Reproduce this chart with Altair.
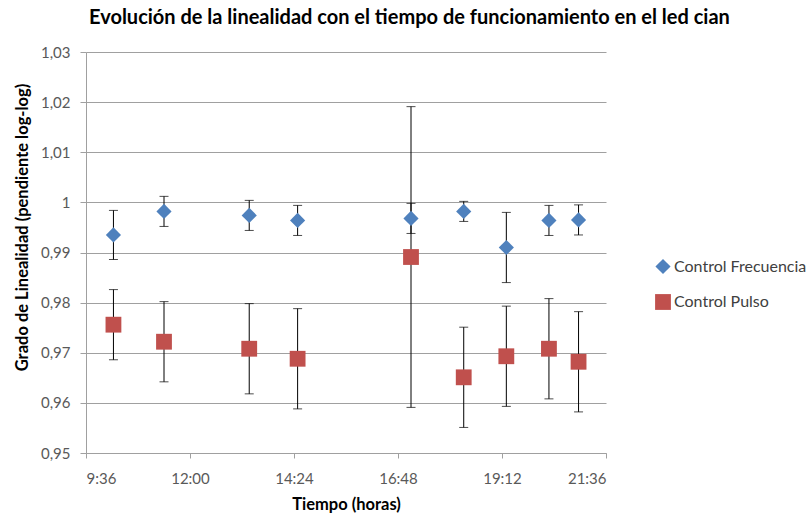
import altair as alt
import pandas as pd

# ---- data ----
times = ["10:14", "11:24", "13:22", "14:29", "17:06", "18:19", "19:18", "20:17", "20:58"]
freq = [0.9935, 0.9982, 0.9974, 0.9964, 0.9968, 0.9982, 0.9910, 0.9964, 0.9965]
freq_err = [0.0049, 0.0030, 0.0030, 0.0030, 0.0030, 0.0020, 0.0070, 0.0030, 0.0030]
pulse = [0.9756, 0.9722, 0.9708, 0.9688, 0.9891, 0.9651, 0.9693, 0.9708, 0.9682]
pulse_err = [0.0070, 0.0080, 0.0090, 0.0100, 0.0300, 0.0100, 0.0100, 0.0100, 0.0100]
series_names = ["Control Frecuencia", "Control Pulso"]
x_ticks = [576, 720, 864, 1008, 1152, 1296]          # 9:36 ... 21:36 in minutes
y_ticks = [0.95, 0.96, 0.97, 0.98, 0.99, 1.00, 1.01, 1.02, 1.03]


def to_min(t):
    h, m = t.split(":")
    return int(h) * 60 + int(m)


rows = []
for name, vals, errs in [(series_names[0], freq, freq_err), (series_names[1], pulse, pulse_err)]:
    for t, v, e in zip(times, vals, errs):
        rows.append({"serie": name, "t": to_min(t), "v": v, "lo": v - e, "hi": v + e})
df = pd.DataFrame(rows)

FONT = "Lato"
x_scale = alt.Scale(domain=[576, 1296], nice=False, zero=False)
y_scale = alt.Scale(domain=[0.95, 1.03], nice=False, zero=False)

x_axis = alt.Axis(
    values=x_ticks,
    labelExpr="floor(datum.value/60) + ':' + (datum.value % 60 < 10 ? '0' : '') + (datum.value % 60)",
    grid=False, tickSize=5, labelPadding=13, domainColor="#a0a0a0", tickColor="#a0a0a0",
    labelFont=FONT, labelFontSize=15, labelColor="#595959",
    title="Tiempo (horas)", titleFont=FONT, titleFontSize=16.5, titleFontWeight="bold",
    titleColor="#000000", titlePadding=10,
)
y_axis = alt.Axis(
    values=y_ticks,
    labelExpr="replace(toString(round(datum.value*100)/100), '.', ',')",
    grid=True, gridColor="#a0a0a0", tickSize=6, labelPadding=10,
    domainColor="#a0a0a0", tickColor="#a0a0a0",
    labelFont=FONT, labelFontSize=15, labelColor="#595959",
    title="Grado de Linealidad (pendiente log-log)", titleFont=FONT, titleFontSize=16.5,
    titleFontWeight="bold", titleColor="#000000",
    titleX=-64, titleY=175, titleAngle=-90, titleAlign="center", titleBaseline="middle",
)

base = alt.Chart(df)

bars = base.mark_rule(color="#000000", strokeWidth=1).encode(
    x=alt.X("t:Q", scale=x_scale, axis=x_axis),
    y=alt.Y("lo:Q", scale=y_scale, axis=y_axis),
    y2="hi:Q",
)
cap_lo = base.mark_tick(color="#000000", orient="horizontal", size=9, thickness=1).encode(
    x=alt.X("t:Q", scale=x_scale), y=alt.Y("lo:Q", scale=y_scale)
)
cap_hi = base.mark_tick(color="#000000", orient="horizontal", size=9, thickness=1).encode(
    x=alt.X("t:Q", scale=x_scale), y=alt.Y("hi:Q", scale=y_scale)
)

legend = alt.Legend(
    title=None, orient="none", legendX=568, legendY=206,
    labelFont=FONT, labelFontSize=16, labelColor="#404040",
    symbolSize=100, rowPadding=13, symbolOpacity=1, padding=0, labelOffset=2,
)

pts = base.mark_point(filled=True, opacity=1, strokeWidth=0).encode(
    x=alt.X("t:Q", scale=x_scale),
    y=alt.Y("v:Q", scale=y_scale),
    color=alt.Color("serie:N", scale=alt.Scale(domain=series_names, range=["#4F81BD", "#C0504D"]),
                    legend=legend),
    shape=alt.Shape("serie:N", scale=alt.Scale(domain=series_names, range=["diamond", "square"]),
                    legend=legend),
    size=alt.Size("serie:N", scale=alt.Scale(domain=series_names, range=[230, 250]), legend=None),
)

chart = (
    alt.layer(bars, cap_lo, cap_hi, pts)
    .properties(
        width=520, height=401,
        autosize=alt.AutoSizeParams(type="none"),
        padding={"left": 86, "top": 52, "right": 204, "bottom": 62},
        background="white",
        title=alt.TitleParams(
            "Evolución de la linealidad con el tiempo de funcionamiento en el led cian",
            font=FONT, fontSize=20, fontWeight="bold", color="#000000",
            anchor="start", frame="group", dx=3, offset=17,
        ),
    )
    .configure_view(stroke=None)
)

chart.save("out.html", embed_options={"renderer": "svg", "actions": False})
